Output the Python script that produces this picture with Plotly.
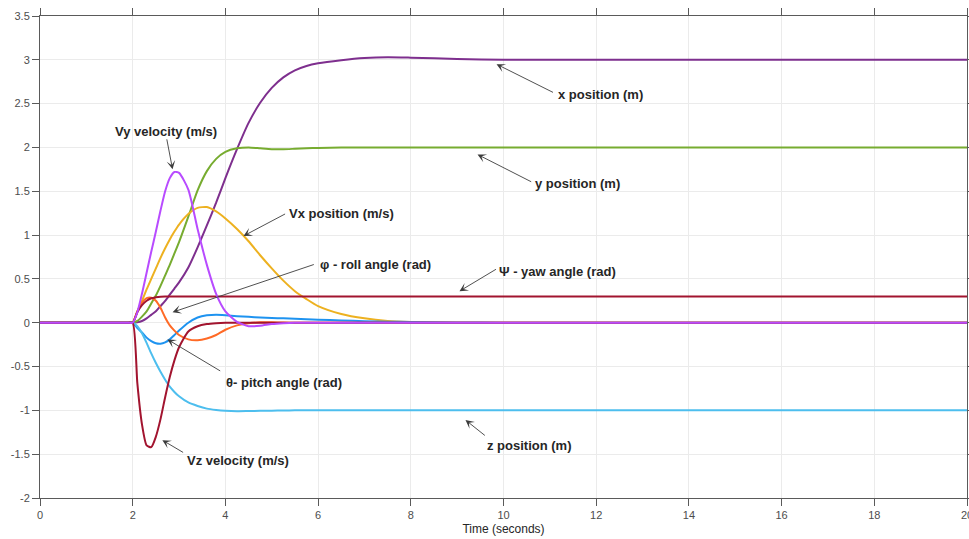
import plotly.graph_objects as go

# Sample times (s) shared by all signals
t = [0, 1.0, 1.9, 2.0, 2.1, 2.2, 2.3, 2.4, 2.5, 2.6, 2.7, 2.8, 2.9, 3.0, 3.2, 3.4, 3.6, 3.8,
     4.0, 4.25, 4.5, 4.75, 5.0, 5.25, 5.5, 5.75, 6.0, 6.5, 7.0, 7.5, 8.0, 9.0, 10.0, 12.0, 14.0, 16.0, 18.0, 20.0]

# Positions (m)
x_pos = [0, 0, 0, 0, 0.005, 0.02, 0.05, 0.09, 0.13, 0.19, 0.25, 0.32, 0.39, 0.46, 0.63, 0.86, 1.11, 1.37,
         1.65, 1.98, 2.28, 2.51, 2.68, 2.80, 2.88, 2.93, 2.96, 2.995, 3.02, 3.03, 3.025, 3.01, 3.0, 3.0, 3.0, 3.0, 3.0, 3.0]
y_pos = [0, 0, 0, 0, 0.02, 0.07, 0.13, 0.22, 0.31, 0.42, 0.54, 0.66, 0.79, 0.92, 1.21, 1.51, 1.73, 1.87,
         1.95, 1.99, 2.0, 1.99, 1.98, 1.98, 1.985, 1.99, 1.995, 2.0, 2.0, 2.0, 2.0, 2.0, 2.0, 2.0, 2.0, 2.0, 2.0, 2.0]
z_pos = [0, 0, 0, 0, -0.04, -0.12, -0.23, -0.35, -0.46, -0.56, -0.65, -0.73, -0.79, -0.84, -0.91, -0.95, -0.98, -0.995,
         -1.005, -1.01, -1.008, -1.005, -1.003, -1.002, -1.0, -1.0, -1.0, -1.0, -1.0, -1.0, -1.0, -1.0, -1.0, -1.0, -1.0,
         -1.0, -1.0, -1.0]

# Velocities (m/s)
vx = [0, 0, 0, 0, 0.13, 0.25, 0.38, 0.50, 0.62, 0.74, 0.85, 0.95, 1.04, 1.12, 1.24, 1.31, 1.32, 1.27,
      1.19, 1.07, 0.93, 0.77, 0.62, 0.48, 0.36, 0.27, 0.19, 0.10, 0.05, 0.02, 0.008, 0, 0, 0, 0, 0, 0, 0]
vy = [0, 0, 0, 0, 0.12, 0.33, 0.57, 0.81, 1.04, 1.28, 1.50, 1.65, 1.72, 1.71, 1.52, 1.07, 0.66, 0.33,
      0.13, 0.01, -0.04, -0.035, -0.015, -0.005, 0, 0, 0, 0, 0, 0, 0, 0, 0, 0, 0, 0, 0, 0]
vz = [0, 0, 0, 0, -0.69, -1.16, -1.40, -1.42, -1.30, -1.10, -0.85, -0.62, -0.43, -0.28, -0.10, -0.04, -0.015, -0.005,
      0, 0, 0, 0, 0, 0, 0, 0, 0, 0, 0, 0, 0, 0, 0, 0, 0, 0, 0, 0]

# Attitude angles (rad)
roll = [0, 0, 0, 0, 0.13, 0.23, 0.28, 0.285, 0.25, 0.17, 0.06, -0.03, -0.09, -0.14, -0.19, -0.20, -0.18, -0.14,
        -0.08, -0.03, -0.005, 0.005, 0.005, 0.002, 0, 0, 0, 0, 0, 0, 0, 0, 0, 0, 0, 0, 0, 0]
pitch = [0, 0, 0, 0, -0.06, -0.11, -0.17, -0.21, -0.235, -0.24, -0.225, -0.19, -0.14, -0.09, 0.0, 0.06, 0.085, 0.09,
         0.085, 0.075, 0.068, 0.06, 0.055, 0.05, 0.045, 0.04, 0.035, 0.026, 0.018, 0.012, 0.008, 0.003, 0, 0, 0, 0, 0, 0]
yaw = [0, 0, 0, 0, 0.12, 0.20, 0.25, 0.28, 0.29, 0.297, 0.3, 0.3, 0.3, 0.3, 0.3, 0.3, 0.3, 0.3,
       0.3, 0.3, 0.3, 0.3, 0.3, 0.3, 0.3, 0.3, 0.3, 0.3, 0.3, 0.3, 0.3, 0.3, 0.3, 0.3, 0.3, 0.3, 0.3, 0.3]

x_ticks = [0, 2, 4, 6, 8, 10, 12, 14, 16, 18, 20]
y_ticks = [-2, -1.5, -1, -0.5, 0, 0.5, 1, 1.5, 2, 2.5, 3, 3.5]
y_labels = ["-2", "-1.5", "-1", "-0.5", "0", "0.5", "1", "1.5", "2", "2.5", "3", "3.5"]

series = [
    ("x position (m)", x_pos, "#7E2F8E"),
    ("y position (m)", y_pos, "#77AC30"),
    ("Vx position (m/s)", vx, "#EDB120"),
    ("θ- pitch angle (rad)", pitch, "#1E93F0"),
    ("φ - roll angle (rad)", roll, "#FF6A26"),
    ("z position (m)", z_pos, "#4DBEEE"),
    ("Vz velocity (m/s)", vz, "#A2142F"),
    ("Ψ - yaw angle (rad)", yaw, "#A2142F"),
    ("Vy velocity (m/s)", vy, "#B84BFF"),
]

fig = go.Figure()
for name, vals, color in series:
    fig.add_trace(go.Scatter(x=t, y=vals, mode="lines", name=name,
                             line=dict(color=color, width=2, shape="spline", smoothing=0.6)))

# Callouts: (text, arrow head, arrow tail, text anchor point, xanchor)
callouts = [
    ("x position (m)", (9.85, 2.95), (11.10, 2.62), (11.14, 2.61), "left"),
    ("y position (m)", (9.44, 1.92), (10.63, 1.60), (10.63, 1.59), "left"),
    ("Vx position (m/s)", (4.39, 0.99), (5.32, 1.25), (5.32, 1.25), "left"),
    ("φ - roll angle (rad)", (2.86, 0.12), (5.94, 0.67), (5.99, 0.66), "left"),
    ("Ψ - yaw angle (rad)", (9.05, 0.36), (9.87, 0.62), (9.87, 0.59), "left"),
    ("z position (m)", (9.18, -1.11), (9.63, -1.30), (9.59, -1.40), "left"),
    ("θ- pitch angle (rad)", (2.75, -0.19), (3.92, -0.56), (3.98, -0.68), "left"),
    ("Vz velocity (m/s)", (2.64, -1.34), (3.12, -1.49), (3.12, -1.57), "left"),
    ("Vy velocity (m/s)", (2.86, 1.75), (2.73, 2.11), (2.71, 2.185), "center"),
]
for text, head, tail, pos, anchor in callouts:
    fig.add_annotation(x=head[0], y=head[1], ax=tail[0], ay=tail[1], axref="x", ayref="y",
                       xref="x", yref="y", text="", showarrow=True,
                       arrowhead=3, arrowsize=1.6, arrowwidth=0.9, arrowcolor="#3c3c3c")
    fig.add_annotation(x=pos[0], y=pos[1], xref="x", yref="y", text=text, showarrow=False,
                       xanchor=anchor, yanchor="middle",
                       font=dict(family="Arial, Liberation Sans, sans-serif", size=13,
                                 color="#262626", weight="bold"))

axis_common = dict(showgrid=True, gridcolor="#EBEBEB", gridwidth=1, zeroline=False,
                   showline=True, linecolor="#5a5a5a", linewidth=1, mirror="ticks",
                   ticks="outside", ticklen=7, tickcolor="#5a5a5a", ticklabeloverflow="allow",
                   tickfont=dict(family="Arial, Liberation Sans, sans-serif", size=11, color="#4d4d4d"))

fig.update_layout(
    width=969, height=539, template="none",
    margin=dict(l=40, r=2, t=16, b=41),
    paper_bgcolor="white", plot_bgcolor="white", showlegend=False,
    xaxis=dict(range=[0, 20], tickvals=x_ticks, title=dict(text="Time (seconds)", standoff=4,
               font=dict(family="Arial, Liberation Sans, sans-serif", size=12, color="#262626")),
               **axis_common),
    yaxis=dict(range=[-2, 3.5], tickvals=y_ticks, ticktext=y_labels, **axis_common),
)

fig.write_html("out.html")
